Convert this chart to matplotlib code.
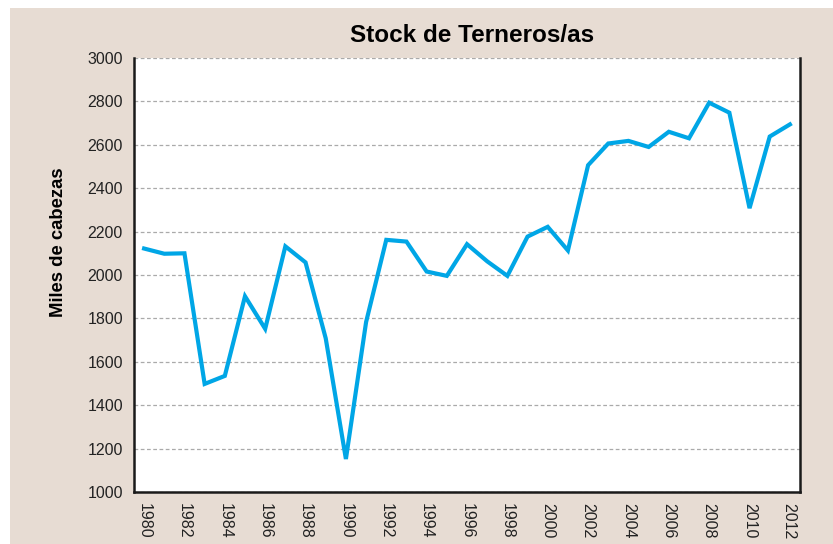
import matplotlib.pyplot as plt
from matplotlib.patches import Rectangle

# ── Datos ────────────────────────────────────────────────
anios = list(range(1980, 2013))
stock = [2122, 2098, 2100, 1498, 1535, 1902, 1752, 2132, 2058, 1708,
         1152, 1783, 2162, 2154, 2016, 1996, 2142, 2063, 1996, 2177,
         2222, 2113, 2506, 2606, 2618, 2590, 2660, 2630, 2794, 2748,
         2308, 2638, 2694]
ticks_x = list(range(1980, 2013, 2))
etiquetas_x = [str(a) for a in ticks_x[:-1]] + ['2012 *']
ticks_y = list(range(1000, 3001, 200))

plt.rcParams['font.family'] = ['Liberation Sans', 'DejaVu Sans']

fig = plt.figure(figsize=(8.33, 5.44), dpi=100, facecolor='white')
fig.patches.append(Rectangle((10/833, 0), 1, 1 - 8/544, transform=fig.transFigure,
                             facecolor='#e7dcd3', edgecolor='none', zorder=-5))

ax = fig.add_axes([134/833, 1 - 492/544, 666/833, 434/544])
ax.set_facecolor('white')
ax.plot(anios, stock, color='#00a6e6', lw=3, solid_joinstyle='miter', zorder=3)

ax.set_xlim(1979.5, 2012.5)
ax.set_ylim(1000, 3000)
ax.set_xticks(ticks_x)
ax.set_xticklabels(etiquetas_x, rotation=270, fontsize=11.5, color='#222222')
ax.set_yticks(ticks_y)
ax.set_yticklabels([str(v) for v in ticks_y], fontsize=11.5, color='#222222')
ax.tick_params(length=0, pad=8)
ax.grid(axis='y', linestyle=(0, (3, 2)), color='#aaaaaa', lw=0.9)
ax.spines['top'].set_visible(False)
for s in ['left', 'bottom', 'right']:
    ax.spines[s].set_linewidth(1.8)
    ax.spines[s].set_color('#1a1a1a')

ax.set_ylabel('Miles de cabezas', fontsize=13.3, fontweight='bold')
ax.yaxis.set_label_coords(-0.101, 0.576)
fig.text(472/833, 1 - 35/544, 'Stock de Terneros/as', ha='center', va='center',
         fontsize=17.5, fontweight='bold')

fig.savefig('out.png', dpi=100)
